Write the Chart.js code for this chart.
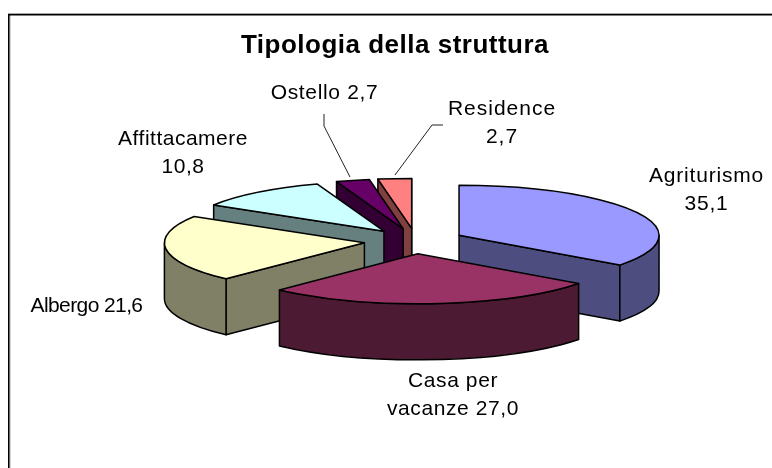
<!DOCTYPE html>
<html><head><meta charset="utf-8">
<style>html,body{margin:0;padding:0;background:#fff}canvas{display:block}</style>
<script src="https://cdn.jsdelivr.net/npm/chart.js@4/dist/chart.umd.min.js"></script>
</head><body>
<div style="width:772px;height:468px"><canvas id="c" width="772" height="468"></canvas></div>
<script>
const categories = ['Agriturismo','Casa per vacanze','Albergo','Affittacamere','Ostello','Residence'];
const values = [35.1, 27.0, 21.6, 10.8, 2.7, 2.7];
const topColors = ['#9999FF','#993366','#FFFFCC','#CCFFFF','#660066','#FF8080'];
const sideColors = ['#4D4D80','#4D1A33','#808066','#668080','#330033','#804040'];
const chartTitle = 'Tipologia della struttura';

const fmt = v => v.toFixed(1).replace('.', ',');
const labelLines = [
  [categories[0], fmt(values[0])],
  ['Casa per', 'vacanze ' + fmt(values[1])],
  [categories[2] + ' ' + fmt(values[2])],
  [categories[3], fmt(values[3])],
  [categories[4] + ' ' + fmt(values[4])],
  [categories[5], fmt(values[5])]
];
// layout
const labelAnchors = [[706.5,190],[453,395],[86.5,306],[183,153],[324.5,93],[502,123]];
const labelSpacing = [0.8,0.6,-0.6,0.5,0.65,1];
const leaders = [null,null,null,null,[[324,114],[324,126],[350,177]],[[443,125],[432,125],[395,175]]];
const SQUASH = 0.25, DEPTH = 56, EXPLODE = 51, SHIFT_X = 18.5, LINE_H = 28.5;
const sliceNudgeX = [0,0,1.5,2.5,2.5,2.5];
const drawOrder = [5,4,3,2,0,1];
const FONT = '21px "Liberation Sans", Arial, sans-serif';

const pie3d = {
  id: 'pie3d',
  beforeDraw(chart) {
    const ctx = chart.ctx;
    ctx.save();
    ctx.fillStyle = '#a8a8a8';
    ctx.fillRect(8, 13, 764, 1);
    ctx.fillRect(9.5, 15, 1, 453);
    ctx.fillStyle = '#000';
    ctx.fillRect(8, 14, 764, 1.5);
    ctx.fillRect(8, 14, 1.5, 454);
    ctx.restore();
    ctx.letterSpacing = '0.5px'; // picked up by the title box
  },
  beforeDatasetDraw(chart) {
    const ctx = chart.ctx, meta = chart.getDatasetMeta(0);
    ctx.save();
    ctx.letterSpacing = '0px';
    ctx.lineWidth = 1.5; ctx.lineJoin = 'round'; ctx.strokeStyle = '#000';
    for (const i of drawOrder) {
      const el = meta.data[i];
      const a0 = el.startAngle, a1 = el.endAngle, r = el.outerRadius, ry = r * SQUASH;
      const mid = (a0 + a1) / 2;
      const cx = el.x + SHIFT_X + sliceNudgeX[i] + Math.cos(mid) * EXPLODE;
      const cy = el.y + Math.sin(mid) * EXPLODE * SQUASH;
      const px = t => cx + r * Math.cos(t), py = t => cy + ry * Math.sin(t);
      const shape = fn => { ctx.beginPath(); fn(); ctx.closePath(); ctx.fill(); ctx.stroke(); };
      ctx.fillStyle = sideColors[i];
      // radial faces that look towards the viewer
      const face = t => shape(() => {
        ctx.moveTo(cx, cy); ctx.lineTo(px(t), py(t));
        ctx.lineTo(px(t), py(t) + DEPTH); ctx.lineTo(cx, cy + DEPTH);
      });
      if (Math.sin(a1 + Math.PI / 2) > 0) face(a1);
      if (Math.sin(a0 - Math.PI / 2) > 0) face(a0);
      // outer rim: the part of the arc on the front half of the ellipse
      for (const k of [0, 2]) {
        const lo = Math.max(a0, k * Math.PI), hi = Math.min(a1, (k + 1) * Math.PI);
        if (hi > lo) shape(() => {
          ctx.ellipse(cx, cy, r, ry, 0, lo, hi);
          ctx.ellipse(cx, cy + DEPTH, r, ry, 0, hi, lo, true);
        });
      }
      // top face
      ctx.fillStyle = topColors[i];
      shape(() => { ctx.moveTo(cx, cy); ctx.ellipse(cx, cy, r, ry, 0, a0, a1); });
    }
    // label text
    ctx.fillStyle = '#000'; ctx.font = FONT; ctx.textAlign = 'center'; ctx.textBaseline = 'middle';
    labelLines.forEach((lines, i) => {
      ctx.letterSpacing = labelSpacing[i] + 'px';
      lines.forEach((s, j) => ctx.fillText(s, labelAnchors[i][0], labelAnchors[i][1] + (j - (lines.length - 1) / 2) * LINE_H));
    });
    ctx.letterSpacing = '0px';
    // leader lines
    ctx.lineWidth = 1; ctx.strokeStyle = '#222';
    leaders.forEach(l => {
      if (!l) return;
      ctx.beginPath(); l.forEach((p, j) => j ? ctx.lineTo(p[0], p[1]) : ctx.moveTo(p[0], p[1])); ctx.stroke();
    });
    ctx.restore();
    return false; // the faces above replace the flat arcs
  }
};

new Chart(document.getElementById('c'), {
  type: 'pie',
  data: { labels: categories, datasets: [{ data: values, backgroundColor: topColors, borderColor: '#000', borderWidth: 0 }] },
  options: {
    responsive: false, animation: false,
    radius: 200,
    layout: { padding: { left: 18, right: 0, top: 30, bottom: 47 } },
    plugins: {
      legend: { display: false },
      tooltip: { enabled: false },
      title: { display: true, text: chartTitle, color: '#000', padding: { top: 0, bottom: 0 },
        font: { family: '"Liberation Sans", Arial, sans-serif', size: 26, weight: 'bold' } }
    }
  },
  plugins: [pie3d]
});
</script>
</body></html>
